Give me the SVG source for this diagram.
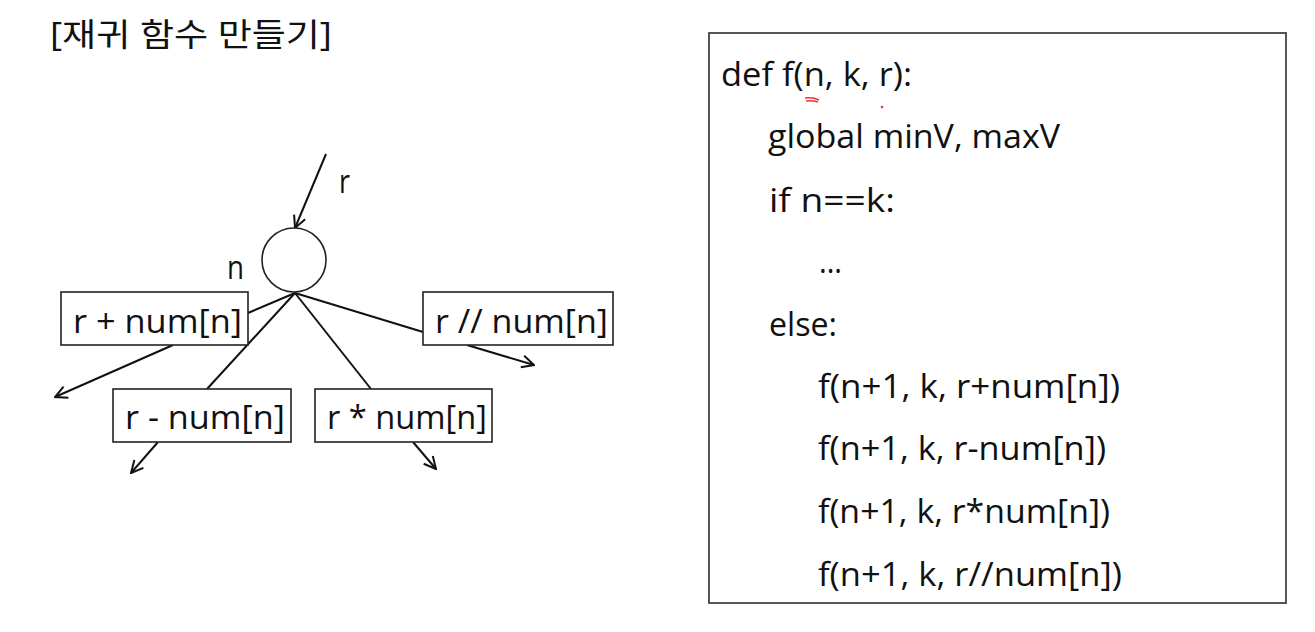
<svg xmlns="http://www.w3.org/2000/svg" width="1315" height="632" viewBox="0 0 1315 632">
<style>
text{font-family:"Open Sans","Noto Sans CJK KR",sans-serif;fill:#111;font-size:32px}
.box{fill:#fff;stroke:#222;stroke-width:1.6}
.ln{stroke:#111;stroke-width:2;fill:none}
</style>
<defs>
<marker id="arr" viewBox="0 0 14 14" refX="13" refY="7" markerWidth="14" markerHeight="14" markerUnits="userSpaceOnUse" orient="auto">
<polyline points="1,1 13,7 1,13" fill="none" stroke="#111" stroke-width="2"/>
</marker>
</defs>
<rect width="1315" height="632" fill="#fff"/>
<text id="title" x="50" y="46" font-size="31" textLength="282" lengthAdjust="spacingAndGlyphs">[재귀 함수 만들기]</text>
<g id="connectors">
<line class="ln" x1="326" y1="154" x2="295" y2="228" marker-end="url(#arr)"/>
<line class="ln" x1="295" y1="293" x2="248" y2="313"/>
<line class="ln" x1="295" y1="293" x2="207" y2="389"/>
<line class="ln" x1="295" y1="293" x2="371" y2="389"/>
<line class="ln" x1="295" y1="293" x2="423" y2="332"/>
<line class="ln" x1="173" y1="345" x2="55" y2="397" marker-end="url(#arr)"/>
<line class="ln" x1="158" y1="442" x2="131" y2="473" marker-end="url(#arr)"/>
<line class="ln" x1="413" y1="442" x2="436" y2="469" marker-end="url(#arr)"/>
<line class="ln" x1="467" y1="345" x2="534" y2="365" marker-end="url(#arr)"/>
</g>
<text id="label-r" x="339" y="193" textLength="11" lengthAdjust="spacingAndGlyphs">r</text>
<g id="node-n">
<circle cx="294" cy="260" r="32" fill="#fff" stroke="#222" stroke-width="1.6"/>
<text x="227" y="279" textLength="17" lengthAdjust="spacingAndGlyphs">n</text>
</g>
<g id="box-plus">
<rect class="box" x="61" y="292" width="187" height="53"/>
<text x="73" y="333" textLength="169" lengthAdjust="spacingAndGlyphs">r + num[n]</text>
</g>
<g id="box-minus">
<rect class="box" x="113" y="389" width="178" height="53"/>
<text x="125" y="429" textLength="160" lengthAdjust="spacingAndGlyphs">r - num[n]</text>
</g>
<g id="box-mul">
<rect class="box" x="315" y="389" width="177" height="53"/>
<text x="327" y="429" textLength="160" lengthAdjust="spacingAndGlyphs">r * num[n]</text>
</g>
<g id="box-div">
<rect class="box" x="423" y="292" width="190" height="53"/>
<text x="435" y="333" textLength="173" lengthAdjust="spacingAndGlyphs">r // num[n]</text>
</g>
<g id="code">
<rect x="709" y="33" width="577" height="570" fill="#fff" stroke="#444" stroke-width="1.8"/>
<text x="721" y="86" textLength="191" lengthAdjust="spacingAndGlyphs">def f(n, k, r):</text>
<text x="768" y="148" textLength="292" lengthAdjust="spacingAndGlyphs">global minV, maxV</text>
<text x="769" y="212" textLength="126" lengthAdjust="spacingAndGlyphs">if n==k:</text>
<text x="819" y="273" textLength="23" lengthAdjust="spacingAndGlyphs">...</text>
<text x="769" y="336" textLength="68" lengthAdjust="spacingAndGlyphs">else:</text>
<text x="818" y="398" textLength="302" lengthAdjust="spacingAndGlyphs">f(n+1, k, r+num[n])</text>
<text x="818" y="460" textLength="288" lengthAdjust="spacingAndGlyphs">f(n+1, k, r-num[n])</text>
<text x="818" y="523" textLength="292" lengthAdjust="spacingAndGlyphs">f(n+1, k, r*num[n])</text>
<text x="818" y="586" textLength="304" lengthAdjust="spacingAndGlyphs">f(n+1, k, r//num[n])</text>
<path d="M805 98 Q813 97 819 100 M806 101 Q812 100 818 102" stroke="#e33" stroke-width="1.5" fill="none"/>
<circle cx="882" cy="107" r="1.3" fill="#e33"/>
</g>
</svg>
